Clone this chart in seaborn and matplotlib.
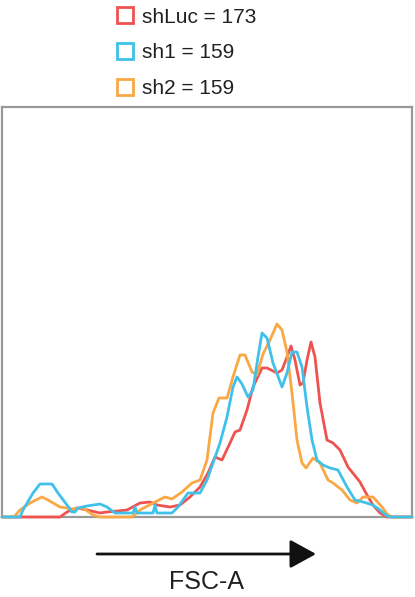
import matplotlib
matplotlib.use("Agg")
import matplotlib.pyplot as plt
import seaborn as sns
import pandas as pd
from matplotlib.lines import Line2D

# FSC-A histograms (channel, count) for each knockdown
shluc_fsc = [0, 58, 65, 75, 85, 98, 105, 125, 138, 148, 155, 168, 178, 188, 198, 206, 213, 220,
             228, 233, 238, 245, 251, 260, 265, 275, 280, 285, 289, 293, 298, 301, 305, 309, 313,
             318, 325, 331, 338, 346, 358, 365, 371, 378, 385, 410]
shluc_count = [0, 0, 5, 9, 7, 4, 5, 7, 14, 15, 12, 10, 12, 20, 30, 44, 60, 57,
               74, 85, 87, 107, 130, 149, 149, 144, 147, 160, 171, 157, 132, 134, 157, 175, 160,
               114, 77, 74, 67, 50, 35, 22, 12, 4, 0, 0]

sh1_fsc = [0, 18, 21, 31, 38, 50, 56, 65, 70, 73, 76, 85, 98, 105, 113, 131, 133, 135, 151, 153,
           155, 170, 176, 186, 198, 205, 211, 218, 225, 231, 235, 240, 246, 251, 256, 260, 265,
           271, 280, 285, 290, 295, 300, 305, 310, 315, 321, 328, 336, 345, 353, 361, 371, 378,
           385, 390, 410]
sh1_count = [0, 0, 7, 24, 33, 33, 24, 12, 5, 5, 9, 11, 13, 10, 4, 4, 10, 4, 4, 12,
             4, 4, 10, 24, 24, 37, 54, 74, 100, 130, 140, 133, 120, 127, 160, 184, 179,
             154, 130, 144, 165, 165, 150, 110, 77, 57, 52, 49, 47, 30, 17, 15, 12, 7,
             1, 0, 0]

sh2_fsc = [0, 12, 18, 28, 40, 46, 58, 71, 81, 91, 98, 130, 138, 151, 163, 170, 180, 190, 198,
           205, 211, 217, 225, 231, 238, 243, 250, 255, 261, 268, 275, 280, 285, 290, 295, 300,
           304, 311, 318, 326, 331, 340, 348, 355, 361, 371, 380, 386, 390, 410]
sh2_count = [0, 0, 7, 14, 20, 17, 10, 8, 9, 2, 0, 0, 7, 14, 20, 18, 25, 34, 37,
             57, 104, 119, 119, 140, 162, 162, 145, 142, 163, 177, 193, 187, 165, 124, 77, 54,
             49, 59, 54, 37, 34, 27, 17, 14, 20, 20, 10, 2, 0, 0]

labels = ["shLuc = 173", "sh1 = 159", "sh2 = 159"]
colors = ["#ef5350", "#3fc1ea", "#f9a845"]

df = pd.concat([
    pd.DataFrame({"FSC-A": shluc_fsc, "count": shluc_count, "sample": labels[0]}),
    pd.DataFrame({"FSC-A": sh2_fsc, "count": sh2_count, "sample": labels[2]}),
    pd.DataFrame({"FSC-A": sh1_fsc, "count": sh1_count, "sample": labels[1]}),
])

sns.set_style("white")
plt.rcParams["font.family"] = ["Liberation Sans", "DejaVu Sans"]

W, H = 415, 597
fig = plt.figure(figsize=(W / 100, H / 100), dpi=100)
ax = fig.add_axes([2 / W, (H - 517) / H, 410 / W, 410 / H])

sns.lineplot(data=df, x="FSC-A", y="count", hue="sample", sort=False, estimator=None,
             hue_order=[labels[0], labels[2], labels[1]],
             palette=[colors[0], colors[2], colors[1]], lw=2.0, legend=False, ax=ax)
# let the traces sit on top of the frame at the baseline
for ln in ax.lines:
    ln.set_clip_on(False)
    ln.set_zorder(3)

ax.set_xlim(0, 410)
ax.set_ylim(0, 410)
ax.set_xticks([])
ax.set_yticks([])
ax.set_xlabel("")
ax.set_ylabel("")
for s in ax.spines.values():
    s.set_visible(True)
    s.set_color("#999999")
    s.set_linewidth(1.6)
    s.set_zorder(2)

# Legend with open square markers
handles = [Line2D([], [], marker="s", ls="none", markersize=11.5, markerfacecolor="white",
                  markeredgecolor=c, markeredgewidth=2.0) for c in colors]
fig.legend(handles, labels, loc="upper left", bbox_to_anchor=(100 / W, 1 + 7 / H),
           frameon=False, fontsize=15, handlelength=1.0, handletextpad=0.3,
           labelspacing=0.8, borderpad=0.2, labelcolor="#231f20")

# Direction arrow and axis label below the plot
ax.annotate("", xy=(316, H - 554), xytext=(97, H - 554), xycoords="figure pixels",
            textcoords="figure pixels",
            arrowprops=dict(arrowstyle="-|>,head_length=1.0,head_width=0.55",
                            mutation_scale=16, lw=2, color="#111111",
                            shrinkA=0, shrinkB=0))
fig.text(206 / W, (H - 582) / H, "FSC-A", ha="center", va="center", fontsize=18,
         color="#231f20")

fig.savefig("out.png", dpi=100)
